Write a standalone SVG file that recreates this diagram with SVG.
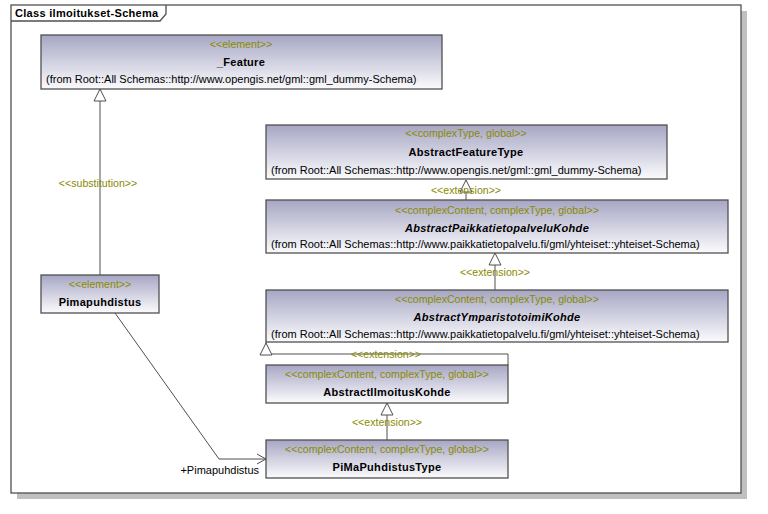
<svg xmlns="http://www.w3.org/2000/svg" width="768" height="514" viewBox="0 0 768 514">
<defs>
<linearGradient id="g" x1="0" y1="0" x2="0" y2="1">
<stop offset="0" stop-color="#a6a6c4"/>
<stop offset="1" stop-color="#fbfbfd"/>
</linearGradient>
<style>
.box{fill:url(#g);stroke:#505050;stroke-width:1.3}
.st{font-family:"Liberation Sans",Arial,sans-serif;font-size:10.6px;fill:#8a8a00;text-anchor:middle}
.nm{font-family:"Liberation Sans",Arial,sans-serif;font-size:11px;font-weight:bold;fill:#000;text-anchor:middle;letter-spacing:0.3px}
.it{font-style:italic}
.fr{font-family:"Liberation Sans",Arial,sans-serif;font-size:11px;fill:#000}
.ln{fill:none;stroke:#505050;stroke-width:1}
.tri{fill:#fff;stroke:#505050;stroke-width:1}
.lb{font-family:"Liberation Sans",Arial,sans-serif;font-size:10.6px;fill:#8a8a00;text-anchor:middle}
</style>
</defs>
<rect width="768" height="514" fill="#fff"/>
<g id="frame">
<rect x="17" y="11" width="730" height="488" fill="#c0c0c0"/>
<rect x="11" y="5" width="730" height="488" fill="#fff" stroke="#505050" stroke-width="1.3"/>
<path d="M11,21 H160 L166,14 V5" fill="none" stroke="#505050" stroke-width="1.3"/>
<text x="15" y="17" class="fr" font-weight="bold" letter-spacing="0.3">Class ilmoitukset-Schema</text>
</g>
<g id="connectors">
<path class="ln" d="M100,275 V89"/>
<path class="tri" d="M100,89 L94,101 L106,101 Z"/>
<text class="lb" x="98" y="187">&lt;&lt;substitution&gt;&gt;</text>
<path class="ln" d="M466,200 V180"/>
<path class="tri" d="M466,180 L460,192 L472,192 Z"/>
<text class="lb" x="466" y="194">&lt;&lt;extension&gt;&gt;</text>
<path class="ln" d="M495,291 V253"/>
<path class="tri" d="M495,253 L489,265 L501,265 Z"/>
<text class="lb" x="495" y="276">&lt;&lt;extension&gt;&gt;</text>
<path class="ln" d="M508,365 V354 H266 V342"/>
<path class="tri" d="M266,343 L260,355 L272,355 Z"/>
<text class="lb" x="386" y="358">&lt;&lt;extension&gt;&gt;</text>
<path class="ln" d="M387,440 V403"/>
<path class="tri" d="M387,403 L381,415 L393,415 Z"/>
<text class="lb" x="387" y="426">&lt;&lt;extension&gt;&gt;</text>
<path class="ln" d="M115,313 L219,459 H266"/>
<path class="ln" d="M257,454 L266,459 L257,464"/>
<text class="fr" x="259" y="474" text-anchor="end">+Pimapuhdistus</text>
</g>
<g id="feature">
<rect class="box" x="41" y="35" width="401" height="54"/>
<text class="st" x="241" y="48">&lt;&lt;element&gt;&gt;</text>
<text class="nm" x="241" y="66">_Feature</text>
<text class="fr" x="46" y="83">(from Root::All Schemas::http://www.opengis.net/gml::gml_dummy-Schema)</text>
</g>
<g id="abstractFeatureType">
<rect class="box" x="266" y="125" width="401" height="54"/>
<text class="st" x="466" y="137">&lt;&lt;complexType, global&gt;&gt;</text>
<text class="nm" x="466" y="156">AbstractFeatureType</text>
<text class="fr" x="271" y="174">(from Root::All Schemas::http://www.opengis.net/gml::gml_dummy-Schema)</text>
</g>
<g id="paikka">
<rect class="box" x="266" y="200" width="462" height="53"/>
<text class="st" x="497" y="214">&lt;&lt;complexContent, complexType, global&gt;&gt;</text>
<text class="nm it" x="497" y="232">AbstractPaikkatietopalveluKohde</text>
<text class="fr" x="271" y="248">(from Root::All Schemas::http://www.paikkatietopalvelu.fi/gml/yhteiset::yhteiset-Schema)</text>
</g>
<g id="ymparisto">
<rect class="box" x="266" y="290" width="462" height="52"/>
<text class="st" x="497" y="303">&lt;&lt;complexContent, complexType, global&gt;&gt;</text>
<text class="nm it" x="497" y="321">AbstractYmparistotoimiKohde</text>
<text class="fr" x="271" y="338">(from Root::All Schemas::http://www.paikkatietopalvelu.fi/gml/yhteiset::yhteiset-Schema)</text>
</g>
<g id="ilmoitus">
<rect class="box" x="266" y="365" width="242" height="38"/>
<text class="st" x="387" y="378">&lt;&lt;complexContent, complexType, global&gt;&gt;</text>
<text class="nm" x="387" y="396">AbstractIlmoitusKohde</text>
</g>
<g id="pima">
<rect class="box" x="266" y="440" width="242" height="38"/>
<text class="st" x="387" y="453">&lt;&lt;complexContent, complexType, global&gt;&gt;</text>
<text class="nm" x="387" y="471">PiMaPuhdistusType</text>
</g>
<g id="pimapuhdistus">
<rect class="box" x="41" y="275" width="118" height="38"/>
<text class="st" x="100" y="288">&lt;&lt;element&gt;&gt;</text>
<text class="nm" x="100" y="306">Pimapuhdistus</text>
</g>
</svg>
